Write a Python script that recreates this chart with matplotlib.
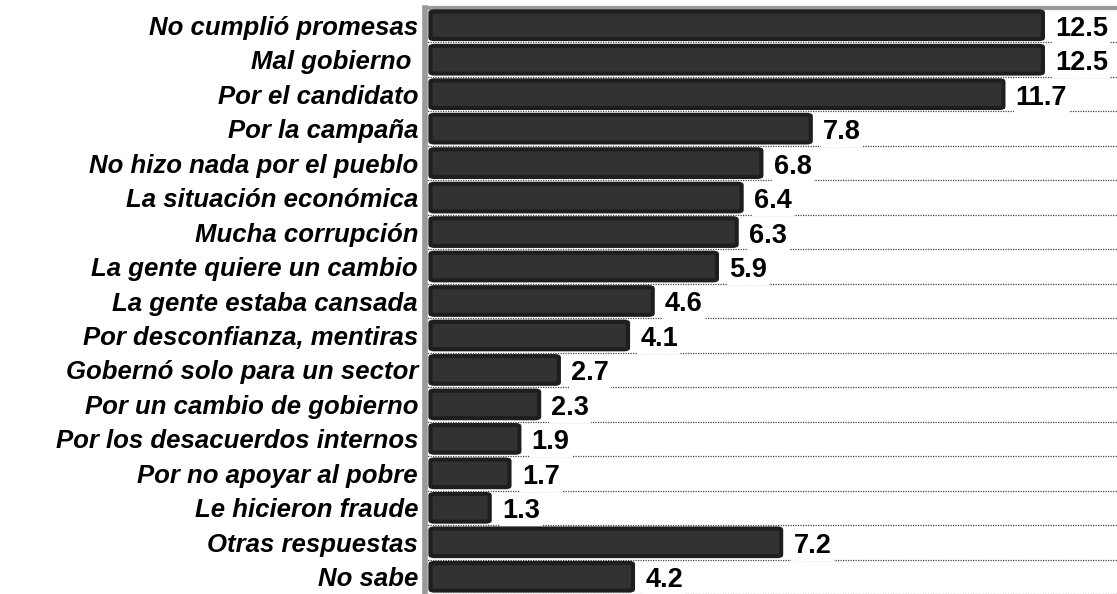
import numpy as np
import matplotlib.pyplot as plt
from matplotlib.patches import FancyBboxPatch

labels = ['No cumplió promesas', 'Mal gobierno ', 'Por el candidato', 'Por la campaña',
          'No hizo nada por el pueblo', 'La situación económica', 'Mucha corrupción',
          'La gente quiere un cambio', 'La gente estaba cansada',
          'Por desconfianza, mentiras', 'Gobernó solo para un sector',
          'Por un cambio de gobierno', 'Por los desacuerdos internos',
          'Por no apoyar al pobre', 'Le hicieron fraude', 'Otras respuestas', 'No sabe']
values = [12.5, 12.5, 11.7, 7.8, 6.8, 6.4, 6.3, 5.9, 4.6, 4.1, 2.7, 2.3, 1.9, 1.7, 1.3, 7.2, 4.2]

plt.rcParams['font.family'] = ['Liberation Sans', 'DejaVu Sans']

fig = plt.figure(figsize=(11.17, 5.94), dpi=100)
ax = fig.add_axes([425 / 1117, 0, 692 / 1117, 586 / 594])

n = len(values)
y = np.arange(n)
ax.set_xlim(-0.06, 13.95)
ax.set_ylim(n - 0.5, -0.5)

# dotted separators between rows
for b in np.arange(-0.5, n, 1.0):
    ax.axhline(b, color='#444444', lw=0.9, ls=(0, (1, 1)), zorder=1)

for yi, v in zip(y, values):
    box = FancyBboxPatch((0.05, yi - 0.4), v - 0.1, 0.8,
                         boxstyle='round,pad=0,rounding_size=0.08',
                         mutation_aspect=0.5,
                         fc='#323232', ec='#1e1e1e', lw=3, zorder=3)
    ax.add_patch(box)
    ax.text(v + 0.2, yi + 0.1, f'{v:.1f}', va='center', ha='left',
            fontsize=19.5, fontweight='bold', zorder=4,
            bbox=dict(fc='white', ec='none', pad=1.5))

ax.set_yticks(y)
ax.set_yticklabels(labels, fontsize=18.5, fontweight='bold', fontstyle='italic')
ax.tick_params(axis='y', length=0, pad=5)
ax.set_xticks([])

for s in ['right', 'bottom']:
    ax.spines[s].set_visible(False)
ax.spines['left'].set_color('#999999')
ax.spines['left'].set_linewidth(4)
ax.spines['top'].set_color('#999999')
ax.spines['top'].set_linewidth(3)

fig.savefig('out.png', dpi=100)
